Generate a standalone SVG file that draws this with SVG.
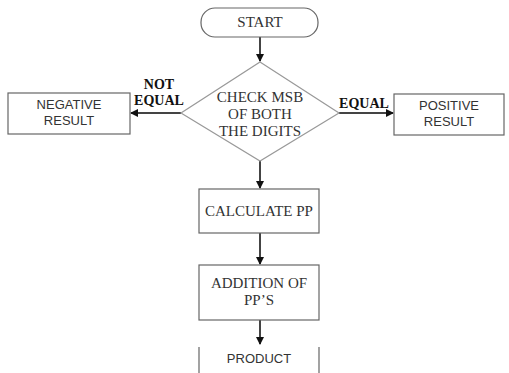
<svg xmlns="http://www.w3.org/2000/svg" width="509" height="373" viewBox="0 0 509 373">
<style>
.box{fill:#fff;stroke:#666;stroke-width:1.2}
.dia{fill:#fff;stroke:#999;stroke-width:1.2}
.ser{font-family:"Liberation Serif",serif;font-size:15px;fill:#333;text-anchor:middle}
.san{font-family:"Liberation Sans",sans-serif;font-size:13px;fill:#333;text-anchor:middle}
.lbl{font-family:"Liberation Serif",serif;font-size:14px;font-weight:bold;fill:#111;text-anchor:middle}
.con{stroke:#444;stroke-width:2;fill:none;marker-end:url(#ah)}
</style>
<defs>
<marker id="ah" markerWidth="8" markerHeight="8" refX="7" refY="4" orient="auto" markerUnits="userSpaceOnUse">
<path d="M0,0 L8,4 L0,8 Z" fill="#111"/>
</marker>
</defs>
<rect width="509" height="373" fill="#fff"/>
<g id="connectors">
<line class="con" x1="260" y1="37" x2="260" y2="61"/>
<line class="con" x1="181" y1="113" x2="131" y2="113"/>
<line class="con" x1="339" y1="113" x2="393" y2="113"/>
<line class="con" x1="260" y1="161" x2="260" y2="188"/>
<line class="con" x1="260" y1="233" x2="260" y2="264"/>
<line class="con" x1="260" y1="320" x2="260" y2="344"/>
</g>
<g id="start">
<rect class="box" x="201" y="8" width="117" height="29" rx="14" ry="14"/>
<text class="ser" x="260" y="27" font-size="14">START</text>
</g>
<g id="check">
<polygon class="dia" points="260,62 339,113 260,161 181,113"/>
<text class="ser" x="260" y="102">CHECK MSB</text>
<text class="ser" x="260" y="119">OF BOTH</text>
<text class="ser" x="260" y="136">THE DIGITS</text>
</g>
<g id="negative">
<rect class="box" x="8" y="93" width="122" height="41"/>
<text class="san" x="69" y="109">NEGATIVE</text>
<text class="san" x="69" y="125">RESULT</text>
</g>
<g id="positive">
<rect class="box" x="394" y="94" width="110" height="41"/>
<text class="san" x="449" y="110">POSITIVE</text>
<text class="san" x="449" y="126">RESULT</text>
</g>
<g id="labels">
<text class="lbl" x="159" y="89">NOT</text>
<text class="lbl" x="159" y="105">EQUAL</text>
<text class="lbl" x="364" y="108">EQUAL</text>
</g>
<g id="calc">
<rect class="box" x="199" y="189" width="120" height="44"/>
<text class="ser" x="259" y="216">CALCULATE PP</text>
</g>
<g id="addition">
<rect class="box" x="199" y="265" width="120" height="55"/>
<text class="ser" x="259" y="288">ADDITION OF</text>
<text class="ser" x="259" y="305">PP’S</text>
</g>
<g id="product">
<path class="box" d="M199,347 V374 M319,347 V374"/>
<text class="san" x="259" y="363">PRODUCT</text>
</g>
</svg>
